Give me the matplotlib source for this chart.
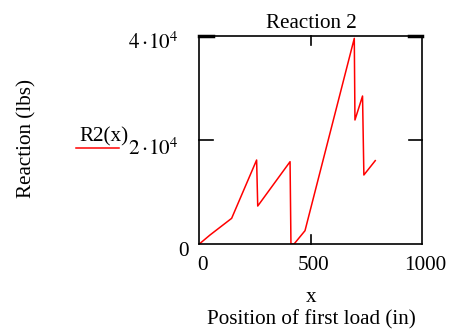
import matplotlib
matplotlib.use("Agg")
import matplotlib.pyplot as plt

plt.rcParams['font.family'] = ['Liberation Serif', 'DejaVu Serif']
plt.rcParams['mathtext.fontset'] = 'stix'

x_pos = [0, 48, 145, 257, 262, 407, 411, 425, 474, 695, 698, 732, 738, 789]
r2 = [0, 1730, 4935, 16150, 7300, 15830, 0, 0, 2560, 39550, 23850, 28460, 13270, 16030]

x_ticks = [0, 500, 1000]
x_tick_labels = ["0", "500", "1000"]
y_max = 40000

W, H = 452, 333
fig = plt.figure(figsize=(W / 100, H / 100), dpi=100)
ax = fig.add_axes([199.3 / W, 1 - 244 / H, 223 / W, 208 / H])
ax.plot(x_pos, r2, color='#ff0000', lw=1.1)
ax.set_xlim(0, 1000)
ax.set_ylim(0, y_max)
ax.set_xticks([])
ax.set_yticks([])
for s in ax.spines.values():
    s.set_linewidth(1.2)
    s.set_color('black')

# Mathcad-style inner ticks
tk = dict(color='black', lw=1.2, clip_on=False)
ax.plot([500, 500], [0, 0.045 * y_max], **tk)
ax.plot([500, 500], [y_max, y_max - 0.045 * y_max], **tk)
ax.plot([0, 60], [y_max / 2, y_max / 2], **tk)
ax.plot([1000, 940], [y_max / 2, y_max / 2], **tk)
ax.plot([0, 60], [y_max, y_max], color='black', lw=2.5, clip_on=False)
ax.plot([1000, 940], [y_max, y_max], color='black', lw=2.5, clip_on=False)


def ftext(px, py, s, **kw):
    fig.text(px / W, 1 - py / H, s, **kw)


fs = 15.2
ftext(311, 23, "Reaction 2", ha='center', va='center', fontsize=fs)
for xv, lab in zip(x_ticks, x_tick_labels):
    px = 199.3 + xv / 1000 * 223
    ftext(px + 3, 265, lab, ha='center', va='center', fontsize=fs)
ftext(311, 298, "x", ha='center', va='center', fontsize=fs)
ftext(311, 320, "Position of first load (in)", ha='center', va='center', fontsize=fs)
ftext(27, 138, "Reaction (lbs)", ha='center', va='center', fontsize=fs, rotation=90)
ftext(189, 252, "0", ha='right', va='center', fontsize=fs)
ftext(178, 149, r"$2\cdot\!10^4$", ha='right', va='center', fontsize=fs)
ftext(178, 43, r"$4\cdot\!10^4$", ha='right', va='center', fontsize=fs)
ftext(79, 137, "R2(x)", ha='left', va='center', fontsize=fs)
fig.add_artist(plt.Line2D([76 / W, 119 / W], [1 - 148 / H, 1 - 148 / H], color='#ff0000', lw=1.1))

fig.savefig("out.png", dpi=100)
